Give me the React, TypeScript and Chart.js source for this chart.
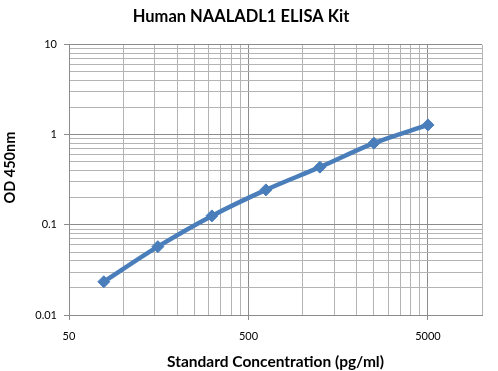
import React, { useEffect, useRef } from "react";
import { Chart, registerables } from "chart.js";

Chart.register(...registerables);

const concentrations = [78.125, 156.25, 312.5, 625, 1250, 2500, 5000];
const odValues = [0.0234, 0.0574, 0.126, 0.245, 0.438, 0.809, 1.29];
const xMajorTicks = [50, 500, 5000];
const yMajorTicks = [0.01, 0.1, 1, 10];
const xMin = 50;
const xMax = 10000;
const yMin = 0.01;
const yMax = 10;

const FONT = "Lato, 'Open Sans', sans-serif";

function buildLogTicks(majors: number[], min: number, max: number) {
  const out: { value: number; major: boolean }[] = [];
  for (const m of majors) {
    for (let k = 1; k <= 9; k++) {
      const v = +(m * k).toPrecision(6);
      if (v >= min && v <= max) out.push({ value: v, major: k === 1 });
    }
  }
  return out;
}

function isMajor(v: number, majors: number[]) {
  return majors.some((m) => Math.abs(m - v) / m < 1e-6);
}

export default function App() {
  const ref = useRef<HTMLCanvasElement | null>(null);
  useEffect(() => {
    if (!ref.current) return;
    const chart = new Chart(ref.current, {
      type: "line",
      data: {
        datasets: [
          {
            data: concentrations.map((x, i) => ({ x, y: odValues[i] })),
            borderColor: "#4A7EBB",
            backgroundColor: "#4A7EBB",
            borderWidth: 4.5,
            pointStyle: "rectRot",
            pointRadius: 6,
            pointBorderWidth: 1,
            cubicInterpolationMode: "monotone",
            fill: false,
          },
        ],
      },
      options: {
        animation: false,
        responsive: false,
        layout: { padding: { left: 0, right: 16, top: 0, bottom: 0 } },
        plugins: {
          legend: { display: false },
          tooltip: { enabled: false },
          title: {
            display: true,
            text: "Human NAALADL1 ELISA Kit",
            color: "#000",
            font: { family: FONT, size: 16.5, weight: "bold", lineHeight: 1.2 },
            padding: { top: 7, bottom: 18 },
          },
        },
        scales: {
          x: {
            type: "logarithmic",
            min: xMin,
            max: xMax,
            afterBuildTicks: (scale: any) => {
              scale.ticks = buildLogTicks(xMajorTicks, xMin, xMax);
            },
            afterFit: (scale: any) => {
              scale.height = 56;
            },
            ticks: {
              autoSkip: false,
              maxRotation: 0,
              color: "#000",
              font: { family: FONT, size: 11 },
              padding: 10,
              callback: (v: any) => (isMajor(Number(v), xMajorTicks) ? String(v) : ""),
            },
            grid: {
              color: (ctx: any) =>
                ctx.tick && isMajor(ctx.tick.value, xMajorTicks) ? "#8c8c8c" : "#b4b4b4",
              tickColor: (ctx: any) =>
                ctx.tick && isMajor(ctx.tick.value, xMajorTicks) ? "#8c8c8c" : "rgba(0,0,0,0)",
              tickLength: 5,
              lineWidth: 1,
            },
            border: { color: "#8c8c8c" },
            title: {
              display: true,
              text: "Standard Concentration (pg/ml)",
              color: "#000",
              font: { family: FONT, size: 15.5, weight: "bold", lineHeight: 1.2 },
              padding: { top: 0, bottom: 0 },
            },
          },
          y: {
            type: "logarithmic",
            min: yMin,
            max: yMax,
            afterBuildTicks: (scale: any) => {
              scale.ticks = buildLogTicks(yMajorTicks, yMin, yMax);
            },
            afterFit: (scale: any) => {
              scale.width = 69;
            },
            ticks: {
              autoSkip: false,
              color: "#000",
              font: { family: FONT, size: 11 },
              padding: 7,
              callback: (v: any) => (isMajor(Number(v), yMajorTicks) ? String(v) : ""),
            },
            grid: {
              color: (ctx: any) =>
                ctx.tick && isMajor(ctx.tick.value, yMajorTicks) ? "#8c8c8c" : "#b4b4b4",
              tickColor: (ctx: any) =>
                ctx.tick && isMajor(ctx.tick.value, yMajorTicks) ? "#8c8c8c" : "rgba(0,0,0,0)",
              tickLength: 5,
              lineWidth: 1,
            },
            border: { color: "#8c8c8c" },
            title: {
              display: true,
              text: "       OD 450nm",
              color: "#000",
              font: { family: FONT, size: 14.5, weight: "bold", lineHeight: 1.2 },
              padding: { top: 2, bottom: 0 },
            },
          },
        },
      },
    } as any);
    return () => chart.destroy();
  }, []);
  return (
    <div style={{ position: "fixed", left: 0, top: 0, width: 498, height: 371, background: "#fff" }}>
      <canvas ref={ref} width={498} height={371} style={{ width: 498, height: 371 }} />
    </div>
  );
}
